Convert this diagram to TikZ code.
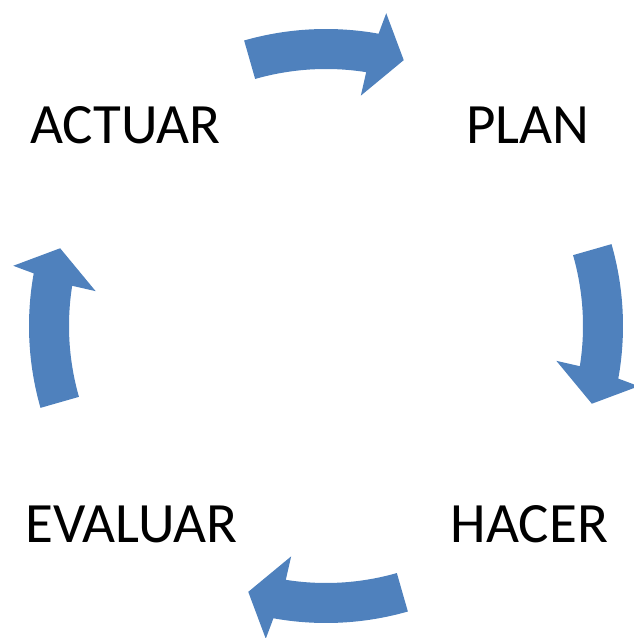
\documentclass[tikz,border=0pt]{standalone}
\usepackage{fontspec}
\setmainfont{Carlito}
\usetikzlibrary{calc}
\definecolor{accentblue}{RGB}{79,129,189}
\tikzset{
  cyclearrow/.style={fill=accentblue, draw=none},
  steplabel/.style={font=\fontsize{57}{61}\selectfont, text=black, inner sep=0pt, anchor=base}
}
\begin{document}
\begin{tikzpicture}[x=1pt,y=1pt]
\useasboundingbox (0,0) rectangle (634,638);
\coordinate (c) at (326,312);
\foreach \T in {106,16,-74,-164}{
  \fill[cyclearrow] ($(c)+(\T:297)$)
    arc[start angle=\T, end angle=\T-26.2, radius=297pt]
    -- ($(c)+(\T-26.9:318.5)$)
    -- ($(c)+(\T-32.3:277)$)
    -- ($(c)+(\T-24.6:233)$)
    -- ($(c)+(\T-25:257)$)
    arc[start angle=\T-25, end angle=\T, radius=257pt]
    -- cycle;
}
\node[steplabel] (actuar) at (125.5,494.7) {ACTUAR};
\node[steplabel] (plan) at (528,494.7) {PLAN};
\node[steplabel] (hacer) at (529.5,95) {HACER};
\node[steplabel] (evaluar) at (131.5,95) {EVALUAR};
\end{tikzpicture}
\end{document}
